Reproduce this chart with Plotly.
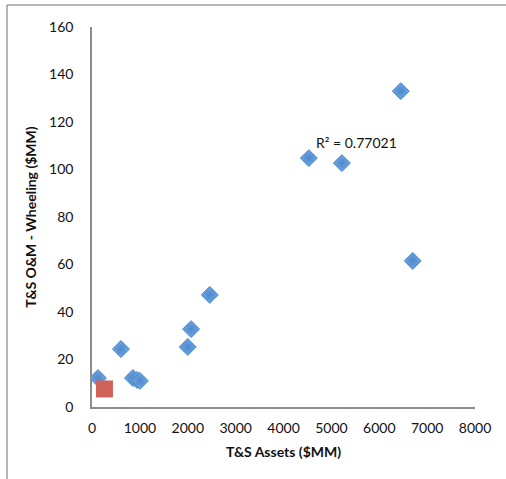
import plotly.graph_objects as go

# Data
assets = [125, 605, 855, 940, 1000, 2000, 2070, 2460, 4530, 5220, 6450, 6700]
om_wheeling = [12.2, 24.4, 12.2, 11.4, 11.0, 25.3, 32.8, 47.2, 104.8, 102.7, 133.0, 61.5]

highlight_x = [260]
highlight_y = [7.6]

r2_text = "R² = 0.77021"
r2_pos = (5520, 111.2)

x_ticks = [0, 1000, 2000, 3000, 4000, 5000, 6000, 7000, 8000]
y_ticks = [0, 20, 40, 60, 80, 100, 120, 140, 160]

FONT = "Lato, 'Open Sans', sans-serif"

fig = go.Figure()
fig.add_trace(go.Scatter(
    x=assets, y=om_wheeling, mode="markers",
    marker=dict(symbol="diamond", size=13, color="#6ea7e6",
                line=dict(color="#4b83c3", width=1),
                gradient=dict(type="radial", color="#4f88c9")),
    showlegend=False, hoverinfo="x+y",
))
fig.add_trace(go.Scatter(
    x=highlight_x, y=highlight_y, mode="markers",
    marker=dict(symbol="square", size=17, color="#cf625a", line=dict(width=0)),
    showlegend=False,
))

fig.add_annotation(x=r2_pos[0], y=r2_pos[1], text=r2_text, showarrow=False,
                   font=dict(family=FONT, size=14, color="#111"))

# outer chart frame (left and top edges visible)
fig.add_shape(type="line", xref="paper", yref="paper", x0=-0.222, x1=-0.222,
              y0=1.058, y1=-0.2, line=dict(color="#9c9c9c", width=1.5))
fig.add_shape(type="line", xref="paper", yref="paper", x0=-0.222, x1=1.09,
              y0=1.058, y1=1.058, line=dict(color="#9c9c9c", width=1.5))

fig.update_layout(
    width=506, height=479,
    margin=dict(l=92, r=31, t=27, b=72),
    paper_bgcolor="white", plot_bgcolor="white",
    font=dict(family=FONT, size=14, color="#111"),
    xaxis=dict(range=[0, 8000], tickvals=x_ticks, showgrid=False, zeroline=False,
               showline=True, linecolor="#8c8c8c", linewidth=1.5, ticks="",
               ticklabelstandoff=7, tickfont=dict(size=14),
               title=dict(text="<b>T&S Assets ($MM)</b>", font=dict(size=14), standoff=13)),
    yaxis=dict(range=[0, 160], tickvals=y_ticks, showgrid=False, zeroline=False,
               showline=True, linecolor="#8c8c8c", linewidth=1.5, ticks="",
               ticklabelstandoff=14, tickfont=dict(size=14),
               title=dict(text="<b>T&S O&M - Wheeling ($MM)</b>", font=dict(size=14), standoff=9)),
)

fig.write_html("out.html")
